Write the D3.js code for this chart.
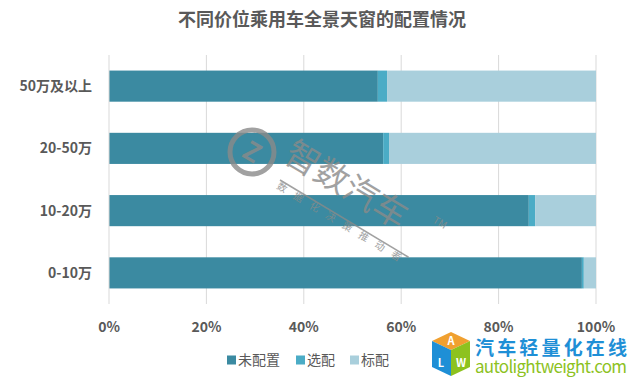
<!DOCTYPE html>
<html>
<head>
<meta charset="utf-8">
<script src="https://cdn.jsdelivr.net/npm/d3@7"></script>
<style>
	body { margin: 0; background: #fff; }
	text { font-family: "Microsoft YaHei", "Noto Sans CJK SC", "DejaVu Sans", sans-serif; }
</style>
</head>
<body>
<div id="chart"></div>
<script>
// Chart data
var categories = ["50万及以上", "20-50万", "10-20万", "0-10万"];
var seriesNames = ["未配置", "选配", "标配"];
var noneValues = [55.2, 56.3, 86.2, 97.1];
var optionValues = [1.9, 1.2, 1.3, 0.4];
var standardValues = [42.9, 42.5, 12.5, 2.5];
var tickValues = [0, 20, 40, 60, 80, 100];
var colors = ["#3b8aa1", "#4bacc6", "#a9cfdc"];

var width = 635, height = 380;
var margin = {left: 109, right: 39, top: 55, bottom: 76};

var svg = d3.select("#chart").append("svg")
	.attr("width", width)
	.attr("height", height);

var x = d3.scaleLinear().domain([0, 100]).range([margin.left, width - margin.right]);
var y = d3.scaleBand().domain(categories)
	.range([margin.top, height - margin.bottom])
	.paddingInner(0.5).paddingOuter(0.25);

// Title
svg.append("text")
	.attr("x", 322).attr("y", 26)
	.attr("text-anchor", "middle")
	.attr("font-size", 18).attr("font-weight", "bold")
	.attr("fill", "#595959")
	.text("不同价位乘用车全景天窗的配置情况");

// Grid lines
svg.append("g").selectAll("line")
	.data(tickValues.slice(1))
	.enter().append("line")
	.attr("x1", function(d){ return x(d); })
	.attr("x2", function(d){ return x(d); })
	.attr("y1", margin.top).attr("y2", height - margin.bottom)
	.attr("stroke", "#d9d9d9").attr("stroke-width", 1);

// Stack the series
var rows = categories.map(function(c, i){
	return {cat: c, "未配置": noneValues[i], "选配": optionValues[i], "标配": standardValues[i]};
});
var stacked = d3.stack().keys(seriesNames)(rows);

svg.append("g").selectAll("g")
	.data(stacked)
	.enter().append("g")
	.attr("fill", function(d, i){ return colors[i]; })
	.selectAll("rect")
	.data(function(d){ return d; })
	.enter().append("rect")
	.attr("x", function(d){ return x(d[0]); })
	.attr("width", function(d){ return x(d[1]) - x(d[0]); })
	.attr("y", function(d){ return y(d.data.cat); })
	.attr("height", y.bandwidth());

// Left axis line
svg.append("line")
	.attr("x1", x(0)).attr("x2", x(0))
	.attr("y1", margin.top).attr("y2", height - margin.bottom)
	.attr("stroke", "#d9d9d9");

// Category labels
svg.append("g").selectAll("text")
	.data(categories)
	.enter().append("text")
	.attr("x", 92)
	.attr("y", function(d){ return y(d) + y.bandwidth() / 2; })
	.attr("dy", "0.35em")
	.attr("text-anchor", "end")
	.attr("font-size", 14).attr("font-weight", "bold")
	.attr("fill", "#595959")
	.text(function(d){ return d; });

// Percentage tick labels
svg.append("g").selectAll("text")
	.data(tickValues)
	.enter().append("text")
	.attr("x", function(d){ return x(d); })
	.attr("y", 332)
	.attr("text-anchor", "middle")
	.attr("font-size", 14).attr("font-weight", "bold")
	.attr("fill", "#595959")
	.text(function(d){ return d + "%"; });

// Legend
var legendX = [227, 296, 350];
var legend = svg.append("g").selectAll("g")
	.data(seriesNames)
	.enter().append("g")
	.attr("transform", function(d, i){ return "translate(" + legendX[i] + ",360)"; });
legend.append("rect")
	.attr("x", 0).attr("y", -4.5)
	.attr("width", 9).attr("height", 9)
	.attr("fill", function(d, i){ return colors[i]; });
legend.append("text")
	.attr("x", 11).attr("dy", "0.35em")
	.attr("font-size", 14)
	.attr("fill", "#595959")
	.text(function(d){ return d; });

// Watermark in the middle
var wm = svg.append("g").attr("opacity", 0.8);
wm.append("circle")
	.attr("cx", 252).attr("cy", 152).attr("r", 22)
	.attr("fill", "none").attr("stroke", "#8a8a8a").attr("stroke-width", 5);
wm.append("text")
	.attr("x", 252).attr("y", 152).attr("dy", "0.35em")
	.attr("text-anchor", "middle")
	.attr("font-size", 26).attr("font-weight", "bold").attr("fill", "#8a8a8a")
	.attr("transform", "rotate(30,252,152)")
	.text("Z");
wm.append("text")
	.attr("transform", "translate(282,160) rotate(31)")
	.attr("font-size", 34).attr("fill", "#8a8a8a")
	.text("智数汽车");
wm.append("line")
	.attr("transform", "translate(280,180) rotate(31)")
	.attr("x1", 0).attr("x2", 150).attr("y1", 0).attr("y2", 0)
	.attr("stroke", "#8a8a8a").attr("stroke-width", 1.5);
wm.append("text")
	.attr("transform", "translate(276,188) rotate(31)")
	.attr("font-size", 10).attr("fill", "#8a8a8a")
	.attr("letter-spacing", 9)
	.text("数据化决策推动者");
wm.append("text")
	.attr("transform", "translate(432,222) rotate(31)")
	.attr("font-size", 10).attr("fill", "#8a8a8a")
	.text("TM");

// Bottom right logo
var logo = svg.append("g");
logo.append("path")
	.attr("d", "M451,332 L470,341 L451,350 L432,341 Z")
	.attr("fill", "#f0a030");
logo.append("path")
	.attr("d", "M432,341 L451,350 L451,376 L432,367 Z")
	.attr("fill", "#1e8fd6");
logo.append("path")
	.attr("d", "M451,350 L470,341 L470,367 L451,376 Z")
	.attr("fill", "#8dc21f");
logo.append("text").attr("x", 451).attr("y", 345).attr("text-anchor", "middle")
	.attr("font-size", 11).attr("font-weight", "bold").attr("fill", "#fff").text("A");
logo.append("text").attr("x", 441).attr("y", 367).attr("text-anchor", "middle")
	.attr("font-size", 11).attr("font-weight", "bold").attr("fill", "#fff").text("L");
logo.append("text").attr("x", 461).attr("y", 367).attr("text-anchor", "middle")
	.attr("font-size", 11).attr("font-weight", "bold").attr("fill", "#fff").text("W");
logo.append("text")
	.attr("x", 475).attr("y", 355)
	.attr("font-size", 19).attr("font-weight", "bold")
	.attr("fill", "#1e8fd6")
	.attr("textLength", 152)
	.text("汽车轻量化在线");
logo.append("text")
	.attr("x", 475).attr("y", 373)
	.attr("font-family", "Liberation Sans, Arial, sans-serif")
	.attr("font-size", 17)
	.attr("fill", "#8dc21f")
	.attr("textLength", 152)
	.text("autolightweight.com");
</script>
</body>
</html>
